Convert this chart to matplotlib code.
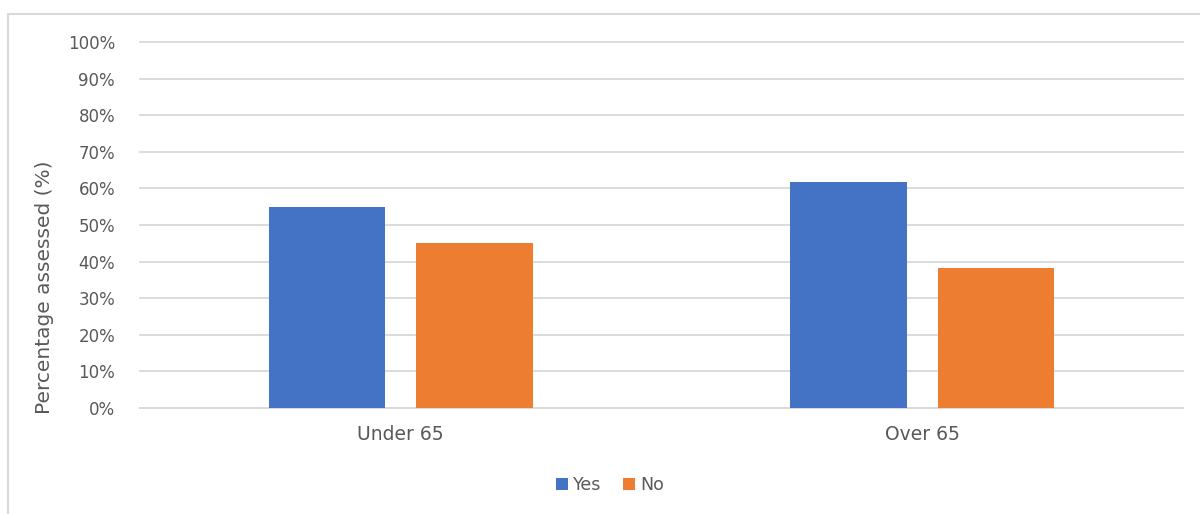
import matplotlib.pyplot as plt
import numpy as np
from matplotlib.patches import Rectangle
from matplotlib.ticker import PercentFormatter

categories = ['Under 65', 'Over 65']
yes_values = [55.0, 61.7]
no_values = [45.0, 38.3]
series_names = ['Yes', 'No']

BLUE = '#4472c4'
ORANGE = '#ed7d31'
TEXT = '#595959'
GRID = '#d9d9d9'

plt.rcParams['font.family'] = ['DejaVu Sans']

W, H = 1200, 514
fig = plt.figure(figsize=(W / 100, H / 100), dpi=100)

# plot area in pixel coords
left, right, top, bottom = 140, 1183, 42, 408
ax = fig.add_axes([left / W, 1 - bottom / H, (right - left) / W, (bottom - top) / H])

x = np.arange(len(categories))
width = 0.224
offset = 0.1415
ax.bar(x - offset, yes_values, width, color=BLUE, label=series_names[0], zorder=3)
ax.bar(x + offset, no_values, width, color=ORANGE, label=series_names[1], zorder=3)

ax.set_xlim(-0.5, len(categories) - 0.5)
ax.set_ylim(0, 100)
ax.set_yticks(np.arange(0, 101, 10))
ax.yaxis.set_major_formatter(PercentFormatter(decimals=0))
ax.set_xticks(x)
ax.set_xticklabels(categories)
ax.grid(axis='y', color=GRID, linewidth=1.3, zorder=0)
for gl in ax.get_ygridlines():
    gl.set_clip_on(False)
for s in ['top', 'right', 'left']:
    ax.spines[s].set_visible(False)
ax.spines['bottom'].set_color(GRID)
ax.spines['bottom'].set_linewidth(1.3)
ax.tick_params(axis='both', length=0, colors=TEXT, labelsize=12)
ax.tick_params(axis='y', pad=18)
ax.tick_params(axis='x', pad=12, labelsize=13.5)

fig.text(45 / W, 1 - 287 / H, 'Percentage assessed (%)', rotation=90,
         ha='center', va='center', color=TEXT, fontsize=14.5)

fig.legend(loc='center', bbox_to_anchor=(610 / W, 1 - 485 / H), ncol=2,
           frameon=False, fontsize=12.5, labelcolor=TEXT, handlelength=0.7,
           handleheight=0.7, handletextpad=0.3, columnspacing=1.2)

# chart frame (cropped on right and bottom)
fig.patches.append(Rectangle((8 / W, -0.1), 1.2, 1 - 14 / H + 0.1,
                             transform=fig.transFigure, fill=False,
                             edgecolor=GRID, linewidth=1.5))

fig.savefig('out.png', dpi=100)
